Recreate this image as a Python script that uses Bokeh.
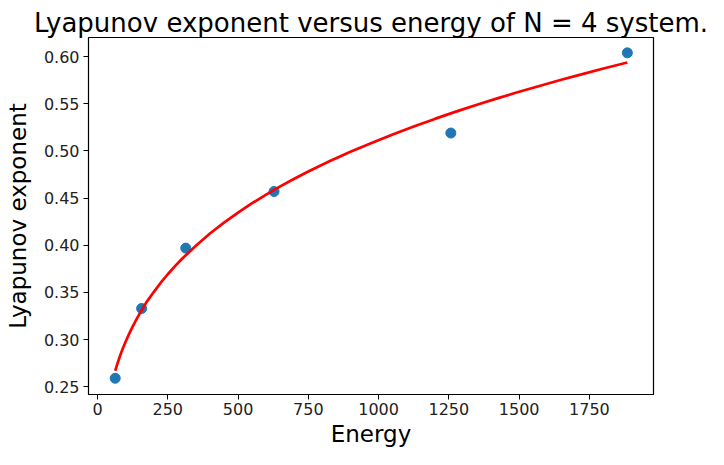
from bokeh.plotting import figure
from bokeh.models import Range1d, FixedTicker, NumeralTickFormatter, Title
from bokeh.embed import file_html
from bokeh.resources import INLINE

# measured points
energy = [63, 157, 314, 628, 1257, 1885]
lyapunov = [0.259, 0.333, 0.397, 0.457, 0.519, 0.604]

# fitted curve, values
curve_x = [63, 67, 72, 80, 90, 100, 112, 125, 140, 157, 175, 200, 225, 250, 275, 300,
           350, 400, 450, 500, 550, 600, 650, 700, 750, 825, 900, 975, 1050, 1125,
           1200, 1275, 1350, 1425, 1500, 1575, 1650, 1725, 1800, 1885]
curve_y = [0.2670, 0.2709, 0.2755, 0.2826, 0.2905, 0.2978, 0.3058, 0.3138, 0.3223,
           0.3312, 0.3400, 0.3504, 0.3603, 0.3693, 0.3777, 0.3855, 0.3995, 0.4125,
           0.4240, 0.4347, 0.4446, 0.4537, 0.4624, 0.4706, 0.4782, 0.4891, 0.4991,
           0.5085, 0.5174, 0.5259, 0.5340, 0.5417, 0.5490, 0.5560, 0.5627, 0.5692,
           0.5755, 0.5815, 0.5875, 0.5938]

x_ticks = [0, 250, 500, 750, 1000, 1250, 1500, 1750]
y_ticks = [0.25, 0.30, 0.35, 0.40, 0.45, 0.50, 0.55, 0.60]

FONT = "DejaVu Sans"

p = figure(width=708, height=449, output_backend="svg", toolbar_location=None,
           x_range=Range1d(-32, 1978), y_range=Range1d(0.2418, 0.6203),
           min_border_left=88, min_border_right=55, min_border_top=37, min_border_bottom=50,
           background_fill_color="white", border_fill_color="white")

p.title = None
p.add_layout(Title(text="Lyapunov exponent versus energy of N = 4 system.",
                   text_font=FONT, text_font_size="26px", text_font_style="normal",
                   text_color="black", align="center", standoff=0, offset=0), "above")

p.grid.visible = False
p.outline_line_color = "black"
p.outline_line_width = 1.2
p.outline_line_alpha = 1.0

for ax in (p.xaxis[0], p.yaxis[0]):
    ax.axis_line_color = "black"
    ax.major_tick_line_color = "black"
    ax.major_tick_out = 5
    ax.major_tick_in = 0
    ax.minor_tick_line_color = None
    ax.major_label_text_font = FONT
    ax.major_label_text_font_size = "16px"
    ax.major_label_text_color = "#222222"
    ax.axis_label_text_font = FONT
    ax.axis_label_text_font_size = "23px"
    ax.axis_label_text_font_style = "normal"
    ax.axis_label_text_color = "black"

p.xaxis.axis_label = "Energy"
p.yaxis.axis_label = "Lyapunov exponent"
p.xaxis.ticker = FixedTicker(ticks=x_ticks)
p.yaxis.ticker = FixedTicker(ticks=y_ticks)
p.yaxis.formatter = NumeralTickFormatter(format="0.00")
p.xaxis.major_label_standoff = 3
p.yaxis.major_label_standoff = 4
p.xaxis.axis_label_standoff = 3
p.yaxis.axis_label_standoff = 10

p.scatter(energy, lyapunov, size=10, color="#1f77b4", line_color="#1f77b4")
p.line(curve_x, curve_y, color="red", line_width=2.7)

open("out.html", "w").write(file_html(p, INLINE))
